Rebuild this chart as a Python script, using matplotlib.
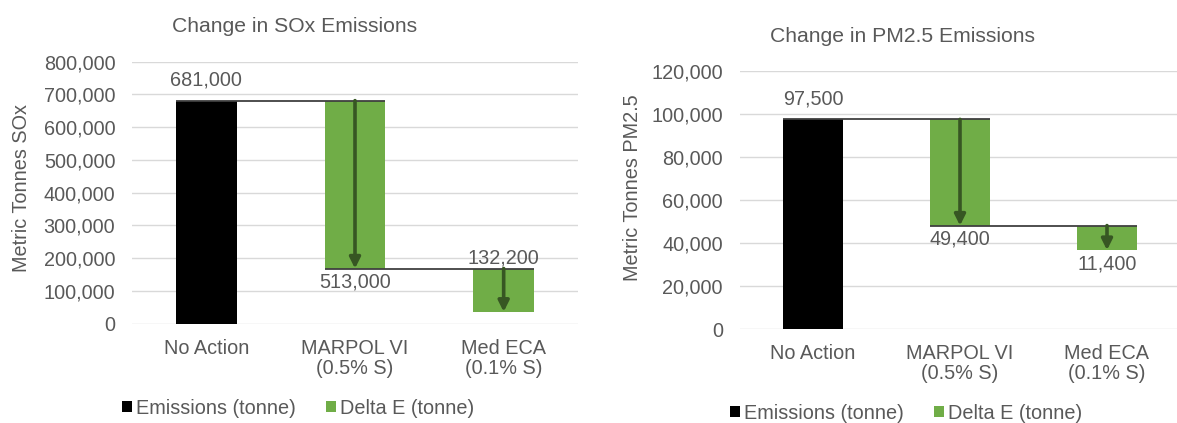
import matplotlib
matplotlib.use("Agg")
import matplotlib.pyplot as plt

plt.rcParams['font.family'] = ['Liberation Sans', 'DejaVu Sans']

# data
categories = ["No Action", "MARPOL VI\n(0.5% S)", "Med ECA\n(0.1% S)"]
sox_baseline = 681000
sox_deltas = [513000, 132200]
pm_baseline = 97500
pm_deltas = [49400, 11400]

BLACK = "#000000"
GREEN = "#70AD47"
ARROW = "#375623"
LINE = "#404040"
GRID = "#d9d9d9"
TXT = "#595959"
FS = 14.3
TITLE_FS = 15.2

W, H = 1177, 423
fig = plt.figure(figsize=(W / 100, H / 100), dpi=100)


def px_axes(left, top, right, bottom):
    return fig.add_axes([left / W, 1 - bottom / H, (right - left) / W, (bottom - top) / H])


def waterfall(ax, baseline, deltas, ymax, ystep):
    x = list(range(len(categories)))
    bw = 0.41
    # running totals
    tops = [baseline]
    for d in deltas:
        tops.append(tops[-1] - d)
    ax.bar(x[0], baseline, width=bw, color=BLACK, label="Emissions (tonne)", zorder=2)
    for i, d in enumerate(deltas):
        ax.bar(x[i + 1], d, bottom=tops[i + 1], width=bw, color=GREEN,
               label="Delta E (tonne)" if i == 0 else None, zorder=2)
        # arrow down through the bar
        ax.annotate("", xy=(x[i + 1], tops[i + 1]), xytext=(x[i + 1], tops[i]),
                    arrowprops=dict(arrowstyle="-|>", color=ARROW, lw=2.6,
                                    mutation_scale=16, shrinkA=0, shrinkB=0),
                    zorder=4)
        # connector line
        ax.plot([x[i] - bw / 2, x[i + 1] + bw / 2], [tops[i], tops[i]],
                color=LINE, lw=1.3, zorder=3, solid_capstyle="butt")

    ax.set_xlim(-0.5, len(categories) - 0.5)
    ax.set_ylim(0, ymax)
    ax.set_yticks(range(0, ymax + 1, ystep))
    ax.yaxis.set_major_formatter(matplotlib.ticker.FuncFormatter(lambda v, p: f"{int(v):,}"))
    ax.set_xticks(x)
    ax.set_xticklabels(categories, linespacing=1.05)
    ax.tick_params(axis="both", length=0, labelsize=FS, labelcolor=TXT)
    ax.tick_params(axis="y", pad=12)
    ax.tick_params(axis="x", pad=11)
    ax.grid(axis="y", color=GRID, lw=1, zorder=0)
    ax.set_axisbelow(True)
    for s in ax.spines.values():
        s.set_visible(False)
    return x, tops


def add_legend(ax, cx, cy):
    h, l = ax.get_legend_handles_labels()
    ax.legend(h, l, loc="center", bbox_to_anchor=(cx / W, 1 - cy / H),
              bbox_transform=fig.transFigure, ncol=2, frameon=False, fontsize=FS,
              labelcolor=TXT, handlelength=0.5, handleheight=0.5, handletextpad=0.2,
              columnspacing=1.5, borderpad=0)


# SOx chart
ax1 = px_axes(132, 61.7, 578, 323.5)
x, tops = waterfall(ax1, sox_baseline, sox_deltas, 800000, 100000)
ax1.annotate(f"{sox_baseline:,}", (x[0], sox_baseline), xytext=(0, 8), textcoords="offset points",
             ha="center", va="bottom", fontsize=FS, color=TXT)
ax1.annotate(f"{sox_deltas[0]:,}", (x[1], tops[1]), xytext=(0, -3), textcoords="offset points",
             ha="center", va="top", fontsize=FS, color=TXT)
ax1.annotate(f"{sox_deltas[1]:,}", (x[2], tops[1]), xytext=(0, 1), textcoords="offset points",
             ha="center", va="bottom", fontsize=FS, color=TXT)
fig.text(295 / W, 1 - 27 / H, "Change in SOx Emissions", ha="center", va="center",
         fontsize=TITLE_FS, color=TXT)
fig.text(22 / W, 1 - 188 / H, "Metric Tonnes SOx", rotation=90, ha="center", va="center",
         fontsize=FS, color=TXT)
add_legend(ax1, 298, 408)

# PM2.5 chart
ax2 = px_axes(739.5, 71, 1180.5, 329)
x, tops = waterfall(ax2, pm_baseline, pm_deltas, 120000, 20000)
ax2.annotate(f"{pm_baseline:,}", (x[0], pm_baseline), xytext=(0, 8), textcoords="offset points",
             ha="center", va="bottom", fontsize=FS, color=TXT)
ax2.annotate(f"{pm_deltas[0]:,}", (x[1], tops[1]), xytext=(0, -3), textcoords="offset points",
             ha="center", va="top", fontsize=FS, color=TXT)
ax2.annotate(f"{pm_deltas[1]:,}", (x[2], tops[2]), xytext=(0, -3), textcoords="offset points",
             ha="center", va="top", fontsize=FS, color=TXT)
fig.text(903 / W, 1 - 37 / H, "Change in PM2.5 Emissions", ha="center", va="center",
         fontsize=TITLE_FS, color=TXT)
fig.text(632 / W, 1 - 188 / H, "Metric Tonnes PM2.5", rotation=90, ha="center", va="center",
         fontsize=FS, color=TXT)
add_legend(ax2, 906, 413)

fig.savefig("out.png", dpi=100)
